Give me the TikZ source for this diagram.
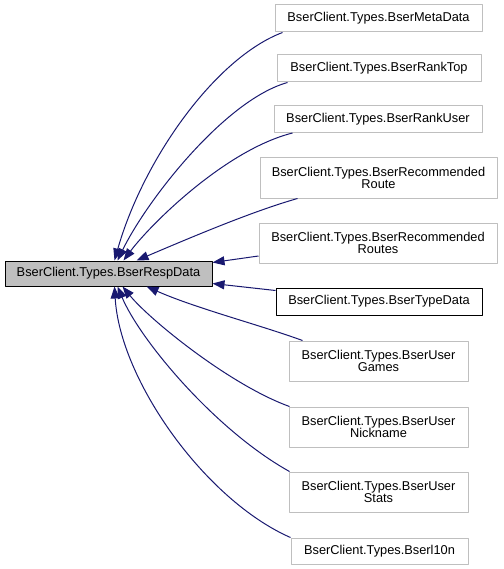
\documentclass[tikz,border=0pt]{standalone}
\usepackage{fontspec}
\setmainfont{Liberation Sans}
\usetikzlibrary{arrows.meta}
\definecolor{edgeblue}{HTML}{191970}
\definecolor{boxgrey}{HTML}{BFBFBF}
\tikzset{
  cls/.style={draw=boxgrey,line width=1pt,inner sep=0pt,align=center,
    font=\fontsize{12.8}{12.6}\selectfont},
  base/.style={cls,draw=black,fill=boxgrey},
  inh/.style={<-,draw=edgeblue,line width=1pt}
}
\begin{document}
\begin{tikzpicture}[x=1pt,y=-1pt,line join=round,>={Triangle[length=12pt,width=9pt]}]
	\useasboundingbox (0,0) rectangle (503,569);
	\node[base,minimum width=207,minimum height=25] (resp) at (108.5,273.5) {BserClient.Types.BserRespData};
	\node[cls,minimum width=207,minimum height=27] (meta) at (378.5,18.5) {BserClient.Types.BserMetaData};
	\node[cls,minimum width=204,minimum height=27] (ranktop) at (379,68.5) {BserClient.Types.BserRankTop};
	\node[cls,minimum width=208,minimum height=27] (rankuser) at (378,119) {BserClient.Types.BserRankUser};
	\node[cls,minimum width=237,minimum height=40] (route) at (378.5,178) {BserClient.Types.BserRecommended\\Route};
	\node[cls,minimum width=238,minimum height=40] (routes) at (378,243) {BserClient.Types.BserRecommended\\Routes};
	\node[cls,draw=black,minimum width=206,minimum height=27] (typedata) at (379,301.5) {BserClient.Types.BserTypeData};
	\node[cls,minimum width=179,minimum height=40] (games) at (378.5,361) {BserClient.Types.BserUser\\Games};
	\node[cls,minimum width=179,minimum height=40] (nickname) at (378.5,427) {BserClient.Types.BserUser\\Nickname};
	\node[cls,minimum width=179,minimum height=40] (stats) at (378.5,492) {BserClient.Types.BserUser\\Stats};
	\node[cls,minimum width=177,minimum height=26] (l10n) at (379.5,551) {BserClient.Types.Bserl10n};
	% edges above
	\draw[inh] ([xshift=110pt]resp.north west) .. controls (143,160) and (215,58) .. ([xshift=8pt]meta.south west);
	\draw[inh] ([xshift=113pt]resp.north west) .. controls (147,200) and (225,100) .. ([xshift=11pt]ranktop.south west);
	\draw[inh] ([xshift=119pt]resp.north west) .. controls (150,225) and (225,150) .. ([xshift=19pt]rankuser.south west);
	\draw[inh] ([xshift=132pt]resp.north west) .. controls (185,240) and (250,212) .. ([xshift=38pt]route.south west);
	\draw[inh] ([yshift=-2pt]resp.north east) -- ([yshift=-13pt]routes.west);
	\draw[inh] ([yshift=3pt]resp.south east) -- ([yshift=-3pt]typedata.north west);
	% edges below
	\draw[inh] ([xshift=142pt]resp.south west) .. controls (195,308) and (260,325) .. ([xshift=14pt]games.north west);
	\draw[inh] ([xshift=118pt]resp.south west) .. controls (150,320) and (230,385) .. ([xshift=1pt]nickname.north west);
	\draw[inh] ([xshift=113pt]resp.south west) .. controls (140,340) and (215,430) .. ([xshift=1pt]stats.north west);
	\draw[inh] ([xshift=110pt]resp.south west) .. controls (120,380) and (205,500) .. (l10n.north west);
\end{tikzpicture}
\end{document}
